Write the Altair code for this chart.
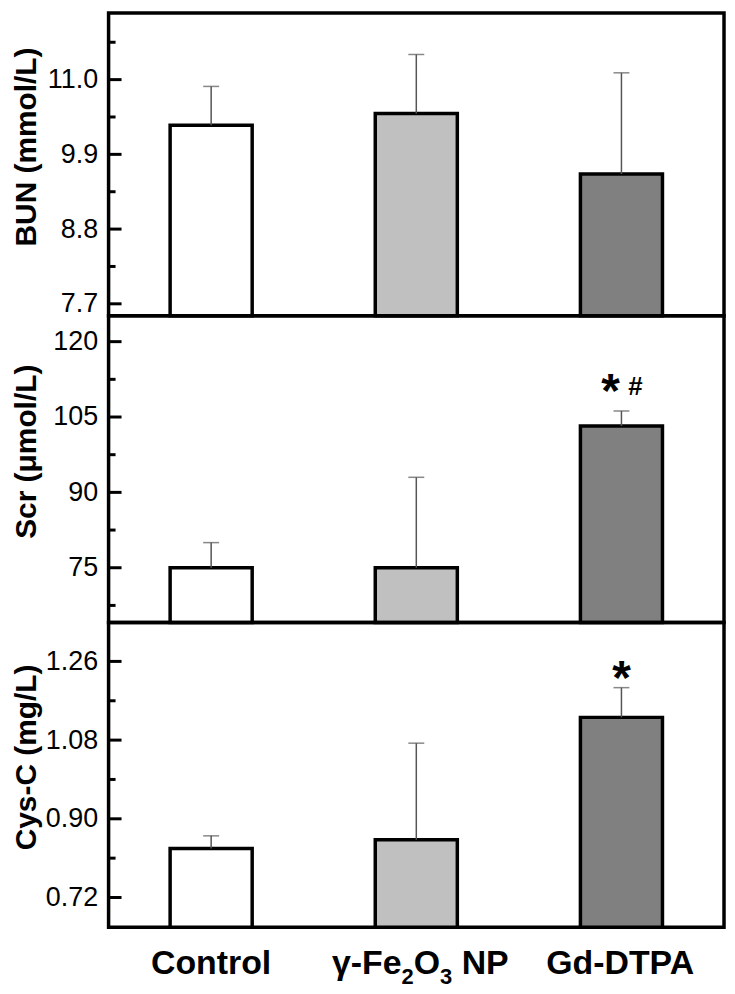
import altair as alt
import pandas as pd

groups = ["Control", "γ-Fe₂O₃ NP", "Gd-DTPA"]
fill_colors = ["#ffffff", "#c0c0c0", "#808080"]

# x-axis label pieces (text, is_subscript) so that the subscripts sit low
label_pieces = {
    "Control": [("Control", False)],
    "γ-Fe₂O₃ NP": [("γ-Fe", False), ("2", True), ("O", False), ("3", True),
                   (" NP", False)],
    "Gd-DTPA": [("Gd-DTPA", False)],
}

bun_mean = [10.33, 10.50, 9.61]
bun_sd = [0.57, 0.87, 1.49]
scr_mean = [75.0, 75.0, 103.2]
scr_sd = [5.0, 18.0, 3.0]
cys_mean = [0.832, 0.852, 1.132]
cys_sd = [0.029, 0.221, 0.068]

bun_ticks = [7.7, 8.8, 9.9, 11.0]
bun_minor = [8.25, 9.35, 10.45, 11.55]
scr_ticks = [75, 90, 105, 120]
scr_minor = [67.5, 82.5, 97.5, 112.5]
cys_ticks = [0.72, 0.90, 1.08, 1.26]
cys_minor = [0.81, 0.99, 1.17]

scr_notes = ["*", "#"]
scr_note_y = [111.2, 111.0]
cys_notes = ["*"]
cys_note_y = [1.235]

FONT = "Liberation Sans"
MAIN = 34
SUB = 22
# Liberation Sans Bold advance widths (per em)
ADV = {"γ": 0.556, "-": 0.333, "F": 0.611, "e": 0.556, "2": 0.556, "O": 0.778,
       "3": 0.556, " ": 0.278, "N": 0.722, "P": 0.667, "C": 0.722, "o": 0.611,
       "n": 0.611, "t": 0.333, "r": 0.389, "l": 0.278, "G": 0.778, "d": 0.611,
       "D": 0.722, "T": 0.611, "A": 0.722}


def text_width(s, size):
    return sum(ADV.get(c, 0.6) for c in s) * size


def label_rows():
    rows = []
    for g in groups:
        pieces = label_pieces[g]
        total = sum(text_width(t, SUB if sub else MAIN) for t, sub in pieces)
        shift = 4 if len(pieces) > 1 else 0
        pos = -total / 2 + shift
        for t, sub in pieces:
            rows.append({"group": g, "t": t.strip(),
                         "dx": pos + (text_width(" ", MAIN) if t.startswith(" ") else 0),
                         "sub": sub})
            pos += text_width(t, SUB if sub else MAIN)
    return rows


def panel(mean, sd, domain, major, minor, fmt, title, height, bottom,
          notes=None, note_y=None):
    df = pd.DataFrame({
        "group": groups,
        "mean": mean,
        "upper": [m + s for m, s in zip(mean, sd)],
        "base": [domain[0]] * len(groups),
    })
    yscale = alt.Scale(domain=domain, nice=False, zero=False)
    yaxis = alt.Axis(values=major, format=fmt, ticks=False, tickSize=0,
                     domain=False, grid=False, labelFontSize=27,
                     labelFont=FONT, labelColor="black", labelPadding=11,
                     titleFontSize=30, titleFont=FONT, titleFontWeight="bold",
                     titleColor="black", titleX=-82, titleY=height / 2 - 18,
                     titleAngle=-90, titleBaseline="middle", titleAlign="center")
    xenc = alt.X("group:N", sort=groups,
                 scale=alt.Scale(paddingInner=0.6, paddingOuter=0.3),
                 axis=None, title=None)

    def Y(field):
        return alt.Y(field, scale=yscale, axis=yaxis, title=title)

    err = alt.Chart(df).mark_rule(color="#555555", strokeWidth=1.5).encode(
        x=xenc, y=Y("mean:Q"), y2="upper:Q")
    cap = alt.Chart(df).mark_tick(color="#555555", thickness=1.5, size=16).encode(
        x=xenc, y=Y("upper:Q"))
    bars = alt.Chart(df).mark_bar(stroke="black", strokeWidth=3.5).encode(
        x=xenc, y=Y("mean:Q"), y2="base:Q",
        fill=alt.Fill("group:N", sort=groups,
                      scale=alt.Scale(domain=groups, range=fill_colors),
                      legend=None))
    tmaj = alt.Chart(pd.DataFrame({"v": major})).mark_rule(
        color="black", strokeWidth=3).encode(
        y=Y("v:Q"), x=alt.value(0), x2=alt.value(13))
    tmin = alt.Chart(pd.DataFrame({"v": minor})).mark_rule(
        color="black", strokeWidth=3).encode(
        y=Y("v:Q"), x=alt.value(0), x2=alt.value(7))
    layers = [bars, err, cap, tmaj, tmin]
    if notes:
        ndf = pd.DataFrame({"group": [groups[2]] * len(notes),
                            "v": note_y, "t": notes})
        if len(notes) == 2:
            star = alt.Chart(ndf.iloc[[0]]).mark_text(
                fontSize=48, fontWeight="bold", font=FONT, dx=-11, dy=7,
                color="black").encode(x=xenc, y=Y("v:Q"), text="t:N")
            hsh = alt.Chart(ndf.iloc[[1]]).mark_text(
                fontSize=26, fontWeight="bold", font=FONT, dx=14, dy=0,
                color="black").encode(x=xenc, y=Y("v:Q"), text="t:N")
            layers += [star, hsh]
        else:
            star = alt.Chart(ndf).mark_text(
                fontSize=48, fontWeight="bold", font=FONT, dy=8,
                color="black").encode(x=xenc, y=Y("v:Q"), text="t:N")
            layers += [star]
    if bottom:
        ldf = pd.DataFrame(label_rows())
        for sub in (False, True):
            part = ldf[ldf["sub"] == sub]
            for _, r in part.iterrows():
                layers.append(
                    alt.Chart(pd.DataFrame([r])).mark_text(
                        font=FONT, fontWeight="bold", fontSize=SUB if sub else MAIN,
                        align="left", baseline="alphabetic", dx=float(r["dx"]),
                        color="black").encode(
                        x=xenc, y=alt.value(height + (57 if sub else 47)),
                        text="t:N"))
    return alt.layer(*layers).properties(width=618, height=height)


p1 = panel(bun_mean, bun_sd, [7.524, 11.98], bun_ticks, bun_minor, ".1f",
           "BUN (mmol/L)", 304, False)
p2 = panel(scr_mean, scr_sd, [64.1, 125.15], scr_ticks, scr_minor, "d",
           "Scr (μmol/L)", 308, False, scr_notes, scr_note_y)
p3 = panel(cys_mean, cys_sd, [0.652, 1.349], cys_ticks, cys_minor, ".2f",
           "Cys-C (mg/L)", 306, True, cys_notes, cys_note_y)

chart = alt.vconcat(p1, p2, p3, spacing=0, bounds="flush").properties(
    padding={"left": 2, "top": 1, "right": 1, "bottom": 5}
).configure(background="white").configure_view(stroke="black", strokeWidth=3.5)

chart.save("out.html", embed_options={"renderer": "svg", "actions": False})
